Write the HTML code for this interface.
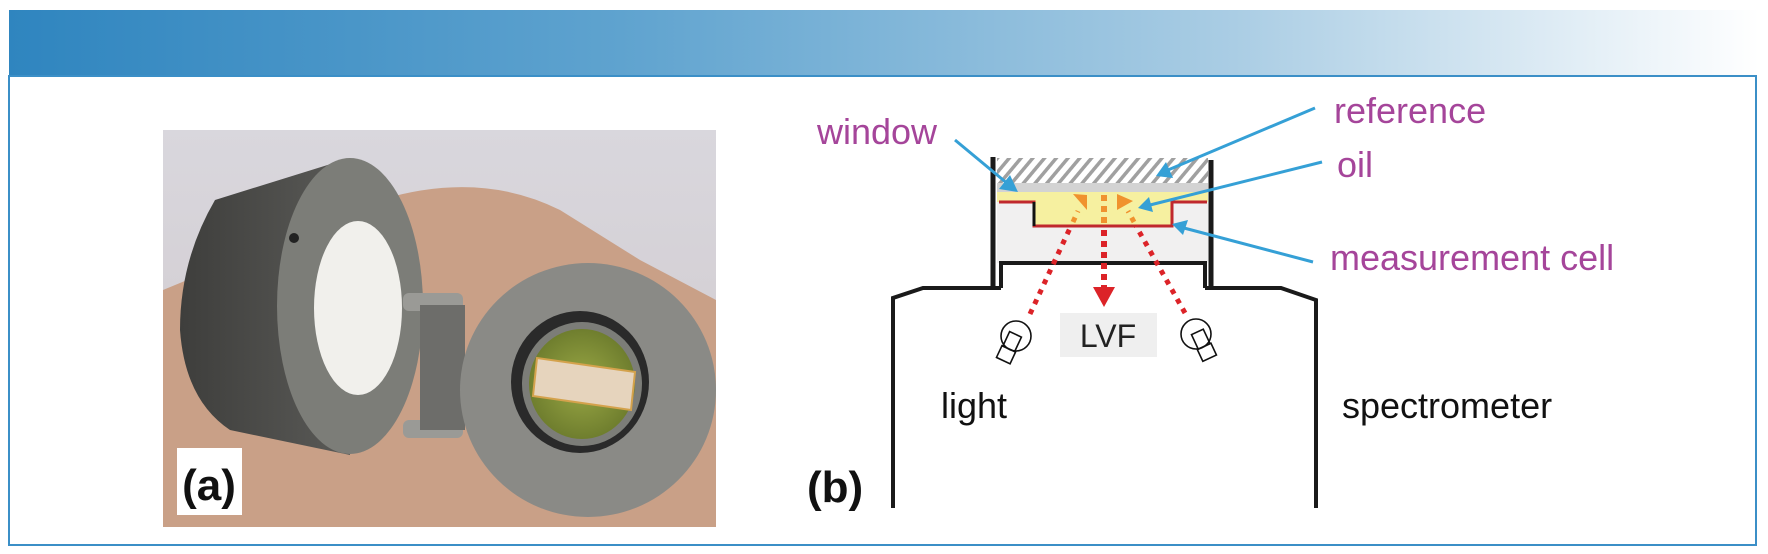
<!DOCTYPE html>
<html><head><meta charset="utf-8"><style>
html,body{margin:0;padding:0;background:#fff;}
svg{display:block;}
text{font-family:"Liberation Sans",sans-serif;}
</style></head><body>
<svg width="1768" height="554" viewBox="0 0 1768 554" xmlns="http://www.w3.org/2000/svg">
<defs>
<linearGradient id="hd" x1="0" x2="1" y1="0" y2="0">
<stop offset="0" stop-color="#2f85bf"/><stop offset="0.35" stop-color="#5fa3cf"/><stop offset="0.7" stop-color="#aacde4"/><stop offset="1" stop-color="#ffffff"/>
</linearGradient>
<pattern id="hatch" width="9" height="9" patternUnits="userSpaceOnUse" patternTransform="rotate(40)">
<rect width="9" height="9" fill="#fff"/><rect width="3.5" height="9" fill="#a0a0a0"/>
</pattern>
<linearGradient id="bg" x1="0" x2="0" y1="0" y2="1"><stop offset="0" stop-color="#d9d7dd"/><stop offset="1" stop-color="#cfc8cc"/></linearGradient>
<radialGradient id="lens" cx="0.5" cy="0.5" r="0.5"><stop offset="0" stop-color="#9aa845"/><stop offset="1" stop-color="#6f7e2e"/></radialGradient>
<linearGradient id="cyl" x1="0" x2="1" y1="0" y2="0"><stop offset="0" stop-color="#3e3e3c"/><stop offset="1" stop-color="#5a5a57"/></linearGradient>
</defs>
<rect x="9" y="10" width="1750" height="66" fill="url(#hd)"/>
<line x1="9" y1="76" x2="1757" y2="76" stroke="#3b8fc7" stroke-width="2"/>
<rect x="9" y="76" width="1747" height="469" fill="none" stroke="#3b8fc7" stroke-width="2"/>

<!-- photo -->
<svg x="163" y="130" width="553" height="397" viewBox="163 130 553 397">
<rect x="163" y="130" width="553" height="397" fill="url(#bg)"/>
<path d="M163 290 Q260 250 380 200 Q480 170 560 210 L640 260 L716 300 L716 527 L163 527 Z" fill="#c9a087"/>
<path d="M350 158 L215 200 Q180 260 180 330 Q185 400 230 430 L350 455 Z" fill="url(#cyl)"/>
<ellipse cx="350" cy="306" rx="73" ry="148" fill="#7c7d78"/>
<ellipse cx="358" cy="308" rx="44" ry="87" fill="#f1f0ec"/>
<circle cx="294" cy="238" r="5" fill="#222"/>
<rect x="403" y="293" width="60" height="18" rx="6" fill="#9a9a96"/>
<rect x="403" y="420" width="60" height="18" rx="6" fill="#9a9a96"/>
<rect x="420" y="305" width="45" height="125" fill="#6d6d6a"/>
<ellipse cx="588" cy="390" rx="128" ry="127" fill="#8a8a86"/>
<ellipse cx="580" cy="382" rx="69" ry="71" fill="#2a2a2a"/>
<ellipse cx="582" cy="384" rx="60" ry="62" fill="#7c7d78"/>
<ellipse cx="582" cy="384" rx="53" ry="55" fill="url(#lens)"/>
<polygon points="537,358 635,372 631,410 533,396" fill="#e6d4bd" stroke="#d4a24c" stroke-width="2"/>
<rect x="177" y="448" width="65" height="67" fill="#fff"/>
<text x="209" y="500" font-size="44" font-weight="bold" text-anchor="middle" fill="#111">(a)</text>
</svg>

<!-- diagram -->
<polygon points="997,158 1208,158 1208,184 997,184" fill="url(#hatch)"/>
<rect x="997" y="183" width="211" height="9" fill="#d3d3d3"/>
<rect x="997" y="192" width="211" height="10" fill="#f6f0a0"/>
<rect x="997" y="202" width="211" height="61" fill="#f1f0f0"/>
<rect x="1034" y="200" width="138" height="26" fill="#f6f0a0"/>
<polyline points="999,202 1034,202 1034,226 1172,226 1172,202 1207,202" fill="none" stroke="#c0282d" stroke-width="3"/>
<line x1="1034" y1="202" x2="1034" y2="226" stroke="#111" stroke-width="3"/>
<line x1="993" y1="157" x2="993" y2="288" stroke="#1a1a1a" stroke-width="5"/>
<line x1="1211" y1="160" x2="1211" y2="288" stroke="#1a1a1a" stroke-width="5"/>
<polyline points="1001,288 1001,263 1205,263 1205,288" fill="none" stroke="#1a1a1a" stroke-width="4"/>
<polyline points="893,508 893,298 923,288 1001,288" fill="none" stroke="#1a1a1a" stroke-width="4"/>
<polyline points="1205,288 1281,288 1316,300 1316,508" fill="none" stroke="#1a1a1a" stroke-width="4"/>

<!-- arrows -->
<line x1="1104" y1="195" x2="1104" y2="226" stroke="#f0922e" stroke-width="6" stroke-dasharray="6,5"/>
<line x1="1104" y1="230" x2="1104" y2="288" stroke="#dc2328" stroke-width="6" stroke-dasharray="6,5"/>
<polygon points="1093,287 1115,287 1104,307" fill="#dc2328"/>
<line x1="1030" y1="314" x2="1071" y2="226" stroke="#dc2328" stroke-width="5" stroke-dasharray="5,6"/>
<line x1="1073" y1="222" x2="1078" y2="211" stroke="#f0922e" stroke-width="5" stroke-dasharray="5,6"/>
<polygon points="1073,194 1087,195 1087,210" fill="#f0922e"/>
<line x1="1185" y1="313" x2="1136" y2="226" stroke="#dc2328" stroke-width="5" stroke-dasharray="5,6"/>
<line x1="1134" y1="222" x2="1128" y2="211" stroke="#f0922e" stroke-width="5" stroke-dasharray="5,6"/>
<polygon points="1117,194 1133,201 1117,210" fill="#f0922e"/>

<rect x="1060" y="313" width="97" height="44" fill="#efefef"/>
<text x="1108" y="347" font-size="32" text-anchor="middle" fill="#222">LVF</text>

<!-- bulbs -->
<g fill="none" stroke="#111" stroke-width="1.6">
<circle cx="1016" cy="336" r="15"/>
<g transform="rotate(25 1010 345)"><rect x="1004" y="333" width="13" height="16"/><rect x="1003" y="349" width="15" height="13"/></g>
<circle cx="1196" cy="334" r="15"/>
<g transform="rotate(-25 1202 343)"><rect x="1196" y="331" width="13" height="16"/><rect x="1195" y="347" width="15" height="13"/></g>
</g>

<!-- leaders -->
<g stroke="#35a0d6" stroke-width="3" fill="none">
<line x1="955" y1="140" x2="1008" y2="184"/>
<line x1="1315" y1="108" x2="1168" y2="170"/>
<line x1="1322" y1="162" x2="1150" y2="205"/>
<line x1="1313" y1="262" x2="1184" y2="228"/>
</g>
<g fill="#35a0d6">
<polygon points="1018,192 999,189 1010,175"/>
<polygon points="1156,176 1166,162 1173,178"/>
<polygon points="1138,208 1149,197 1153,212"/>
<polygon points="1172,224 1188,220 1183,235"/>
</g>

<g fill="#a5459a" font-size="36">
<text x="817" y="144">window</text>
<text x="1334" y="123">reference</text>
<text x="1337" y="177">oil</text>
<text x="1330" y="270">measurement cell</text>
</g>
<g fill="#111" font-size="36">
<text x="941" y="418">light</text>
<text x="1342" y="418">spectrometer</text>
</g>
<text x="807" y="502" font-size="44" font-weight="bold" fill="#111">(b)</text>
</svg>
</body></html>
